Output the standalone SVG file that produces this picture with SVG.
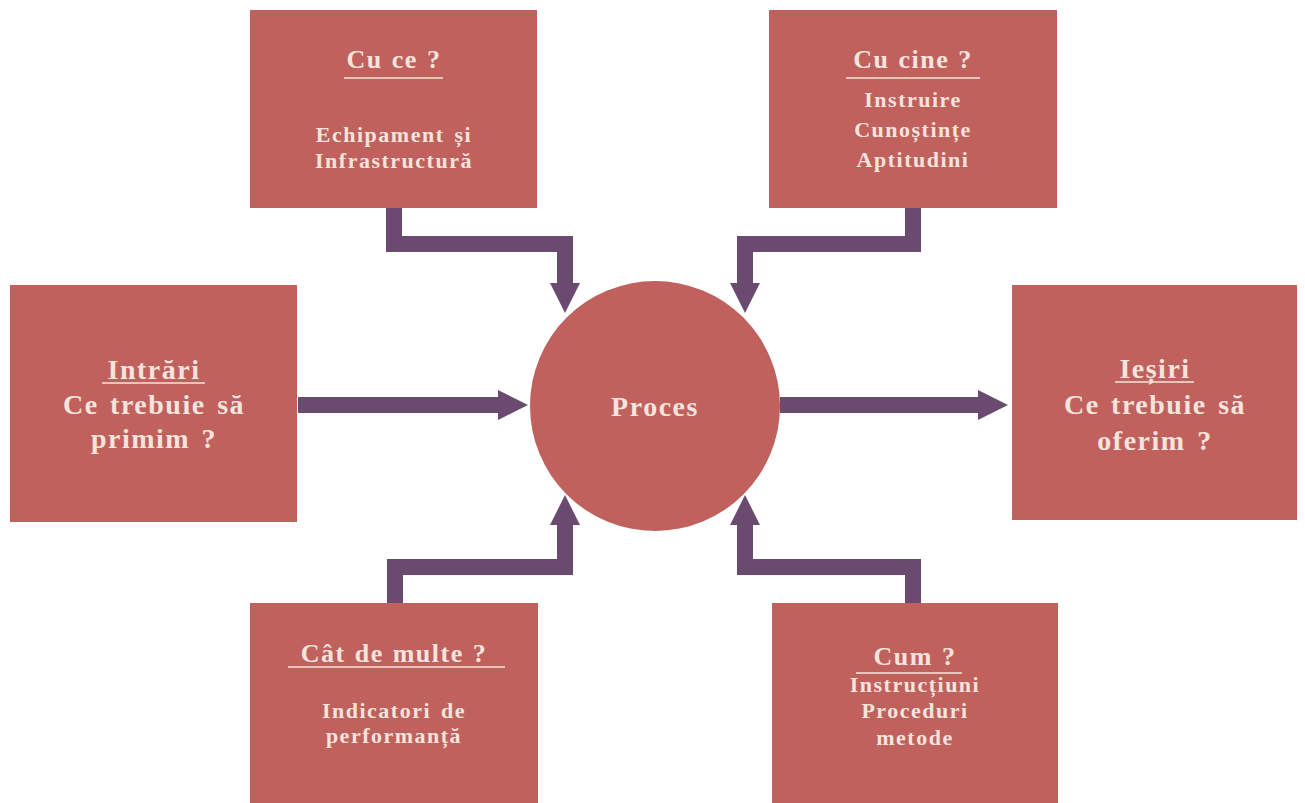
<svg xmlns="http://www.w3.org/2000/svg" width="1305" height="803" viewBox="0 0 1305 803">
  <defs>
    <marker id="ah" markerUnits="userSpaceOnUse" markerWidth="30" markerHeight="30" refX="0" refY="15" orient="auto">
      <path d="M0,0 L30,15 L0,30 z" fill="#6a4b6f"/>
    </marker>
  </defs>
  <style>
    .box { fill: #c1615d; }
    .t { font-family: "Liberation Serif", serif; font-weight: bold; fill: #f4e4dd; text-anchor: middle; letter-spacing: 1.5px; word-spacing: 3px; }
    .s22 { font-size: 22px; }
    .s26 { font-size: 26px; word-spacing: 1px; }
    .s28 { font-size: 28px; }
    .ul { stroke: #f4e4dd; stroke-width: 1.5; }
    .con { fill: none; stroke: #6a4b6f; stroke-width: 16; stroke-linejoin: miter; marker-end: url(#ah); }
  </style>
  <rect width="1305" height="803" fill="#ffffff"/>

  <g id="connectors">
    <polyline class="con" points="394,208 394,244 565,244 565,283"/>
    <polyline class="con" points="913,208 913,244 745,244 745,283"/>
    <polyline class="con" points="395,603 395,567 565,567 565,525"/>
    <polyline class="con" points="913,603 913,567 745,567 745,525"/>
    <polyline class="con" points="298,405 498,405"/>
    <polyline class="con" points="780,405 978,405"/>
  </g>

  <g id="cu-ce">
    <rect class="box" x="250" y="10" width="287" height="198"/>
    <text class="t s26" x="394" y="68">Cu ce ?</text>
    <line class="ul" x1="344" y1="78" x2="443" y2="78"/>
    <text class="t s22" x="394" y="142">Echipament și</text>
    <text class="t s22" x="394" y="168">Infrastructură</text>
  </g>

  <g id="cu-cine">
    <rect class="box" x="769" y="10" width="288" height="198"/>
    <text class="t s26" x="913" y="68">Cu cine ?</text>
    <line class="ul" x1="846" y1="78" x2="980" y2="78"/>
    <text class="t s22" x="913" y="107">Instruire</text>
    <text class="t s22" x="913" y="137">Cunoștințe</text>
    <text class="t s22" x="913" y="167">Aptitudini</text>
  </g>

  <g id="intrari">
    <rect class="box" x="10" y="285" width="287" height="237"/>
    <text class="t s28" x="154" y="379">Intrări</text>
    <line class="ul" x1="102" y1="383" x2="205" y2="383"/>
    <text class="t s28" x="154" y="414">Ce trebuie să</text>
    <text class="t s28" x="154" y="448">primim ?</text>
  </g>

  <g id="iesiri">
    <rect class="box" x="1012" y="285" width="285" height="235"/>
    <text class="t s28" x="1155" y="378">Ieșiri</text>
    <line class="ul" x1="1115" y1="382" x2="1194" y2="382"/>
    <text class="t s28" x="1155" y="414">Ce trebuie să</text>
    <text class="t s28" x="1155" y="450">oferim ?</text>
  </g>

  <g id="proces">
    <circle cx="655" cy="406" r="125" fill="#c1615d"/>
    <text class="t s28" x="655" y="416">Proces</text>
  </g>

  <g id="cat-de-multe">
    <rect class="box" x="250" y="603" width="288" height="200"/>
    <text class="t s26" x="394" y="662">Cât de multe ?</text>
    <line class="ul" x1="288" y1="667" x2="505" y2="667"/>
    <text class="t s22" x="394" y="718">Indicatori de</text>
    <text class="t s22" x="394" y="743">performanță</text>
  </g>

  <g id="cum">
    <rect class="box" x="772" y="603" width="286" height="200"/>
    <text class="t s26" x="915" y="665">Cum ?</text>
    <line class="ul" x1="856" y1="673" x2="962" y2="673"/>
    <text class="t s22" x="915" y="692">Instrucțiuni</text>
    <text class="t s22" x="915" y="718">Proceduri</text>
    <text class="t s22" x="915" y="745">metode</text>
  </g>
</svg>
